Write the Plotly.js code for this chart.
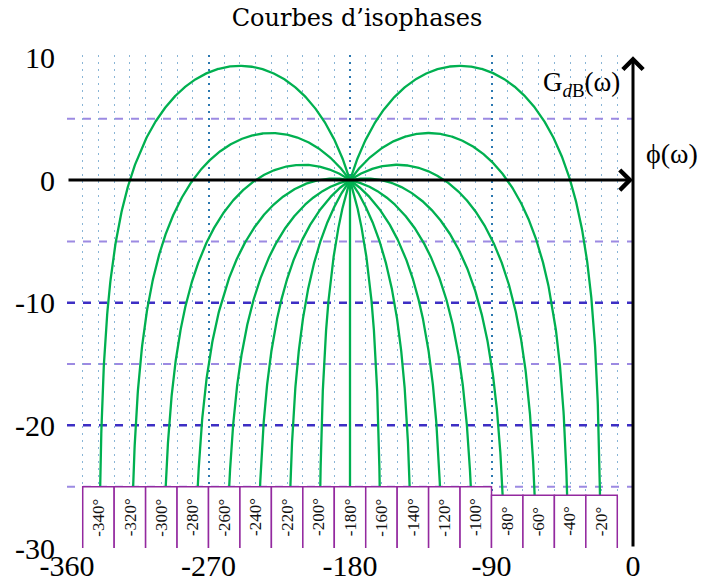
<!DOCTYPE html>
<html>
<head>
<meta charset="utf-8">
<script src="https://cdn.plot.ly/plotly-3.0.1.min.js"></script>
<style>
html,body{margin:0;padding:0;background:#fff;}
#chart{width:721px;height:582px;}
</style>
</head>
<body>
<div id="chart"></div>
<script>
// ---- chart values ----
const phaseLabels = [-340,-320,-300,-280,-260,-240,-220,-200,-180,-160,-140,-120,-100,-80,-60,-40,-20]; // closed-loop phase (deg) of each isophase curve
const xTickVals = [-360,-270,-180,-90,0];
const yTickVals = [10,0,-10,-20,-30];
const lightDashLevels = [5,-5,-15,-25];
const darkDashLevels = [-10,-20];
const labelFloorLeft = -25;    // dB, top of label strip for phases <= -100
const labelFloorRight = -25.7; // dB, top of label strip for phases >= -80
const bottomDb = -30;

const RAD = Math.PI/180;
const FONT = 'Liberation Serif';
const TFONT = 'DejaVu Serif';
const GREEN = '#00b050';
const PURPLE = '#93299f';

function floorFor(psi){ return psi >= -80 ? labelFloorRight : labelFloorLeft; }

// Nichols isophase locus: open loop G = M e^{j phi}, arg(G/(1+G)) = psi  =>  M = sin(phi-psi)/sin(psi)
function isophase(psi){
  const fl = floorFor(psi);
  if (psi === -180) return {x:[-180,-180], y:[0, fl]};
  const s = Math.sin(psi*RAD);
  const m = Math.pow(10, fl/20);
  const aEnd = Math.asin(m*s)/RAD;     // alpha = phi - psi at the strip top
  const aStart = -180 - psi;           // alpha at phi = -180 (0 dB)
  const alphas = [];
  const N = 400;
  for (let i=0;i<=N;i++) alphas.push(aStart + (aEnd-aStart)*i/N);
  const G = 120;
  for (let i=0;i<=G;i++) alphas.push(aEnd*Math.pow(aStart/aEnd, i/G));
  alphas.sort((a,b)=> Math.abs(b)-Math.abs(a));
  const xs=[], ys=[];
  for (const a of alphas){
    const M = Math.sin(a*RAD)/s;
    if (M<=0) continue;
    xs.push(psi + a);
    ys.push(20*Math.log10(M));
  }
  return {x:xs, y:ys};
}

const traces = phaseLabels.map(psi=>{
  const c = isophase(psi);
  return {type:'scatter', mode:'lines', x:c.x, y:c.y, hoverinfo:'skip',
          line:{color:GREEN, width:2.3}, showlegend:false, cliponaxis:true};
});

const shapes = [];
lightDashLevels.forEach(v=>shapes.push({type:'line', xref:'x', yref:'y', x0:-360, x1:0, y0:v, y1:v,
  layer:'between', line:{color:'#9c8ae2', width:2, dash:'8px,8px'}}));
darkDashLevels.forEach(v=>shapes.push({type:'line', xref:'x', yref:'y', x0:-360, x1:0, y0:v, y1:v,
  layer:'between', line:{color:'#3d2fc4', width:2.5, dash:'8px,8px'}}));
// label strip boxes (open at the bottom)
phaseLabels.forEach(psi=>{
  const top = floorFor(psi);
  const x0 = psi-10, x1 = psi+10;
  shapes.push({type:'path', xref:'x', yref:'y', layer:'above',
    path:`M${x0},${bottomDb} L${x0},${top} L${x1},${top} L${x1},${bottomDb}`,
    fillcolor:'#ffffff', line:{color:PURPLE, width:1.5}});
});

const annotations = [];
phaseLabels.forEach(psi=>{
  const top = floorFor(psi);
  annotations.push({xref:'x', yref:'y', x:psi, y:(top+bottomDb)/2, text:psi+'°', showarrow:false,
    textangle:-90, font:{family:FONT, size:17, color:'#111'}, xanchor:'center', yanchor:'middle'});
});
// axis arrows
annotations.push({xref:'x', yref:'y', axref:'x', ayref:'y', x:0, y:0, ax:-360, ay:0, text:'',
  showarrow:true, arrowhead:4, arrowsize:1.3, arrowwidth:3, arrowcolor:'#000', standoff:0, startstandoff:0});
annotations.push({xref:'x', yref:'y', axref:'x', ayref:'y', x:0, y:10.1, ax:0, ay:bottomDb, text:'',
  showarrow:true, arrowhead:4, arrowsize:1.3, arrowwidth:3, arrowcolor:'#000', standoff:0, startstandoff:0});
annotations.push({xref:'paper', yref:'y', x:(622-67)/566, y:7.8, xanchor:'right', yanchor:'middle', showarrow:false,
  text:'G<sub><i>d</i>B</sub>(ω)', font:{family:FONT, size:27, color:'#000'}});
annotations.push({xref:'paper', yref:'y', x:(644-67)/566, y:2.2, xanchor:'left', yanchor:'middle', showarrow:false,
  text:'ϕ(ω)', font:{family:FONT, size:28, color:'#000'}});

const layout = {
  width:721, height:582,
  margin:{l:67, r:88, t:55, b:34, pad:0},
  paper_bgcolor:'#fff', plot_bgcolor:'#fff',
  title:{text:'Courbes d’isophases', font:{family:TFONT, size:24, color:'#000'},
         x:357/721, xref:'container', xanchor:'center', y:1-18/582, yref:'container', yanchor:'middle'},
  xaxis:{range:[-360,0], tickvals:xTickVals, ticktext:xTickVals.map(String),
         showline:false, zeroline:false, ticks:'', ticklabelstandoff:-3,
         tickfont:{family:FONT, size:30, color:'#000'},
         showgrid:true, gridcolor:'#2b78b0', gridwidth:2, griddash:'2px,5px',
         minor:{dtick:10, tick0:0, showgrid:true, gridcolor:'rgba(40,120,180,0.55)', gridwidth:1, griddash:'2px,5px'},
         fixedrange:true},
  yaxis:{range:[bottomDb,10.2], tickvals:yTickVals, ticktext:yTickVals.map(String),
         showline:false, zeroline:false, showgrid:false, ticks:'outside', ticklen:5, tickcolor:'rgba(0,0,0,0)',
         tickfont:{family:FONT, size:30, color:'#000'}, fixedrange:true},
  shapes:shapes,
  annotations:annotations,
  showlegend:false
};

Plotly.newPlot('chart', traces, layout, {staticPlot:true, displayModeBar:false});
</script>
</body>
</html>
